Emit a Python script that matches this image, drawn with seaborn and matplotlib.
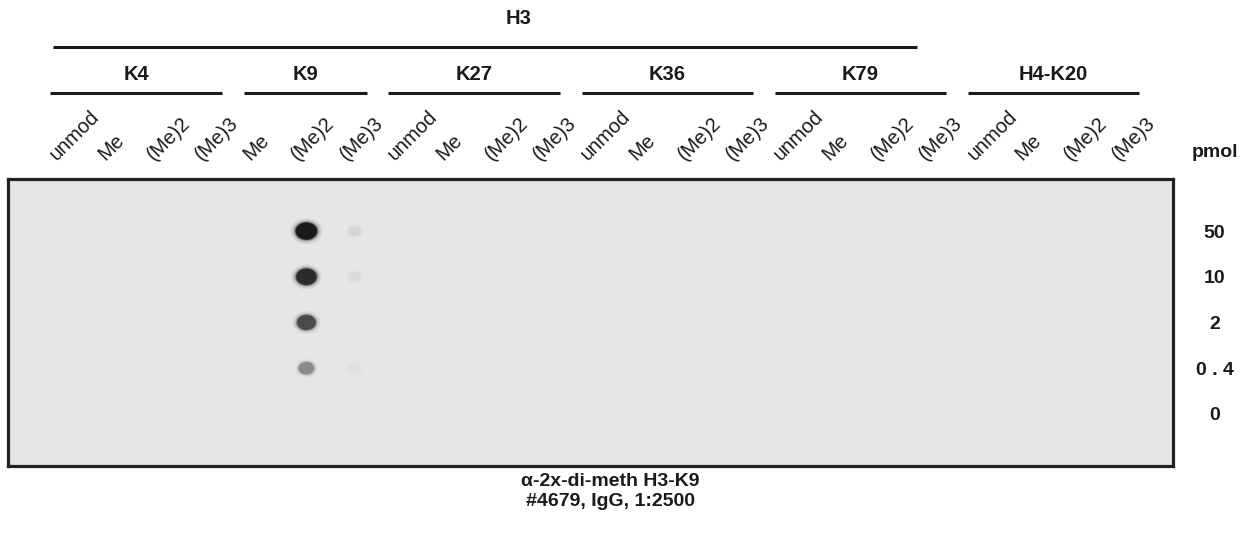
import numpy as np
import pandas as pd
import seaborn as sns
import matplotlib
matplotlib.use("Agg")
import matplotlib.pyplot as plt
from matplotlib import transforms
from matplotlib.colors import LinearSegmentedColormap, PowerNorm

# ---------------- data ----------------
histone = "H3"
groups = ["K4", "K9", "K27", "K36", "K79", "H4-K20"]
group_lanes = [
    ["unmod", "Me", "(Me)2", "(Me)3"],
    ["Me", "(Me)2", "(Me)3"],
    ["unmod", "Me", "(Me)2", "(Me)3"],
    ["unmod", "Me", "(Me)2", "(Me)3"],
    ["unmod", "Me", "(Me)2", "(Me)3"],
    ["unmod", "Me", "(Me)2", "(Me)3"],
]
h3_groups = ["K4", "K9", "K27", "K36", "K79"]
dose_labels = ["50", "10", "2", "0 . 4", "0"]
dose_unit = "pmol"

# spot signal (0 = background, 1 = saturated) read from the blot
lane_k9_me2 = [0.96, 0.88, 0.73, 0.43, 0.0]
lane_k9_me3 = [0.08, 0.06, 0.0, 0.03, 0.0]

caption = ["\u03b1-2x-di-meth H3-K9", "#4679, IgG, 1:2500"]

# ---------------- build table ----------------
lane_names = [lab for g in group_lanes for lab in g]
n_lanes = len(lane_names)
signal = np.zeros((len(dose_labels), n_lanes))
k9_start = len(group_lanes[0])
signal[:, k9_start + 1] = lane_k9_me2
signal[:, k9_start + 2] = lane_k9_me3

rows = []
for r in range(len(dose_labels)):
    for c in range(n_lanes):
        rows.append({"lane": c, "row": r, "signal": signal[r, c]})
df = pd.DataFrame(rows)
spots = df[df["signal"] > 0]

# ---------------- figure ----------------
sns.set_theme(style="white")
plt.rcParams["font.family"] = ["Liberation Sans", "DejaVu Sans"]
INK = "#1a1a1a"

W, H = 1256, 534
fig = plt.figure(figsize=(W / 100, H / 100), dpi=100)
box_l, box_r, box_t, box_b = 8, 1173, 179, 466
ax = fig.add_axes([box_l / W, 1 - box_b / H, (box_r - box_l) / W, (box_b - box_t) / H])
ax.set_facecolor("#e6e6e6")

cmap = LinearSegmentedColormap.from_list("blot", ["#e6e6e6", "#121212"])

# elliptical marker (wider than tall), like a blotted spot
t = np.linspace(0, 2 * np.pi, 40)
ellipse = np.column_stack([np.cos(t), 0.8 * np.sin(t)])

# soft halo layers then core
layers = [(1.55, 0.07), (1.35, 0.12), (1.18, 0.3), (1.07, 0.55), (1.0, 1.0)]
for scale, alpha in layers:
    sns.scatterplot(data=spots, x="lane", y="row", hue="signal", palette=cmap,
                    hue_norm=(0, 1), size="signal",
                    sizes=(70 * scale ** 2, 240 * scale ** 2),
                    size_norm=PowerNorm(1.5, 0, 1), alpha=alpha, linewidth=0,
                    marker=ellipse, legend=False, ax=ax)

ax.set_xlim(-1.18, n_lanes - 1 + 0.95)
ax.set_ylim(len(dose_labels) - 1 + 1.14, -1.14)
ax.set_xlabel("")
ax.set_ylabel("")
ax.set_xticks([])
for s in ax.spines.values():
    s.set_color("#222222")
    s.set_linewidth(2.3)

# dose labels on the right
ax.yaxis.tick_right()
ax.set_yticks(range(len(dose_labels)))
ax.set_yticklabels(dose_labels, fontweight="bold", fontsize=14, ha="center",
                   color=INK)
ax.tick_params(axis="y", length=0, pad=30)
ax.text(1215 / W, 1 - 153 / H, dose_unit, transform=fig.transFigure,
        ha="center", va="center", fontweight="bold", fontsize=14, color=INK)

# lane labels (rotated)
blend = transforms.blended_transform_factory(ax.transData, fig.transFigure)
blend_lane = transforms.offset_copy(blend, fig=fig, x=-8, y=0, units="dots")
for i, lab in enumerate(lane_names):
    ax.text(i, 1 - 161 / H, lab, transform=blend_lane, rotation=45,
            rotation_mode="anchor", ha="left", va="baseline", fontsize=14.5,
            color=INK, clip_on=False)

# group lines and labels
line_y = 1 - 93 / H
start = 0
for g, labs in zip(groups, group_lanes):
    a, b = start - 0.3, start + len(labs) - 1 + 0.25
    ax.plot([a, b], [line_y, line_y], transform=blend, color=INK,
            lw=2.2, clip_on=False, solid_capstyle="butt")
    ax.text((a + b) / 2, 1 - 75 / H, g, transform=blend, ha="center",
            va="center", fontweight="bold", fontsize=14.5, color=INK)
    start += len(labs)

# H3 bracket
n_h3 = sum(len(l) for g, l in zip(groups, group_lanes) if g in h3_groups)
ax.plot([-0.25, n_h3 - 1 - 0.35], [1 - 47 / H] * 2, transform=blend,
        color=INK, lw=2.2, clip_on=False, solid_capstyle="butt")
ax.text(9.4, 1 - 18 / H, histone, transform=blend, ha="center", va="center",
        fontweight="bold", fontsize=14.5, color=INK)

# caption
for k, line in enumerate(caption):
    fig.text(610 / W, 1 - (482 + 20 * k) / H, line, ha="center", va="center",
             fontweight="bold", fontsize=14, color=INK,
             family=["Liberation Sans Narrow", "Liberation Sans", "DejaVu Sans"])

fig.savefig("out.png", dpi=100)
